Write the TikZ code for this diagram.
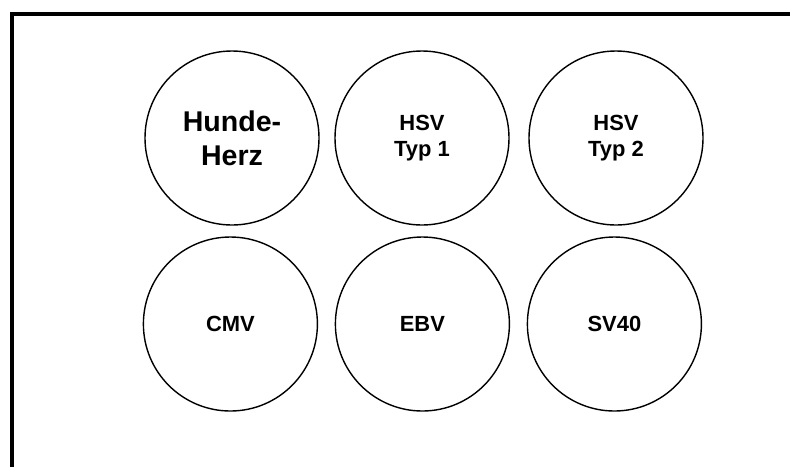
\documentclass[tikz,border=0pt]{standalone}
\usepackage{fontspec}
\setmainfont{Liberation Sans}
\usetikzlibrary{calc}

\begin{document}
\begin{tikzpicture}[every node/.style={font=\bfseries\fontsize{15.6}{18.4}\selectfont},
  virus/.style={draw, circle, line width=1pt, minimum size=4.35cm, inner sep=0pt, align=center}]
  \useasboundingbox (0,0) rectangle (19.75,-11.65);
  \clip (0,0) rectangle (19.75,-11.65);
  \coordinate (frameBL) at (0.31,-12.5);
  \coordinate (frameTR) at (20.5,-0.345);
  \draw[line width=2.85pt] (frameBL) |- (frameTR);
  \node[virus, font=\bfseries\fontsize{20.3}{24.4}\selectfont] (hundeherz) at (5.8,-3.45) {Hunde-\\Herz};
  \node[virus] (hsv1) at (10.55,-3.45) {HSV\\Typ 1};
  \node[virus] (hsv2) at (15.4,-3.45) {HSV\\Typ 2};
  \node[virus] (cmv) at (5.76,-8.1) {CMV};
  \node[virus] (ebv) at (10.56,-8.1) {EBV};
  \node[virus] (sv40) at (15.36,-8.1) {SV40};
\end{tikzpicture}
\end{document}
